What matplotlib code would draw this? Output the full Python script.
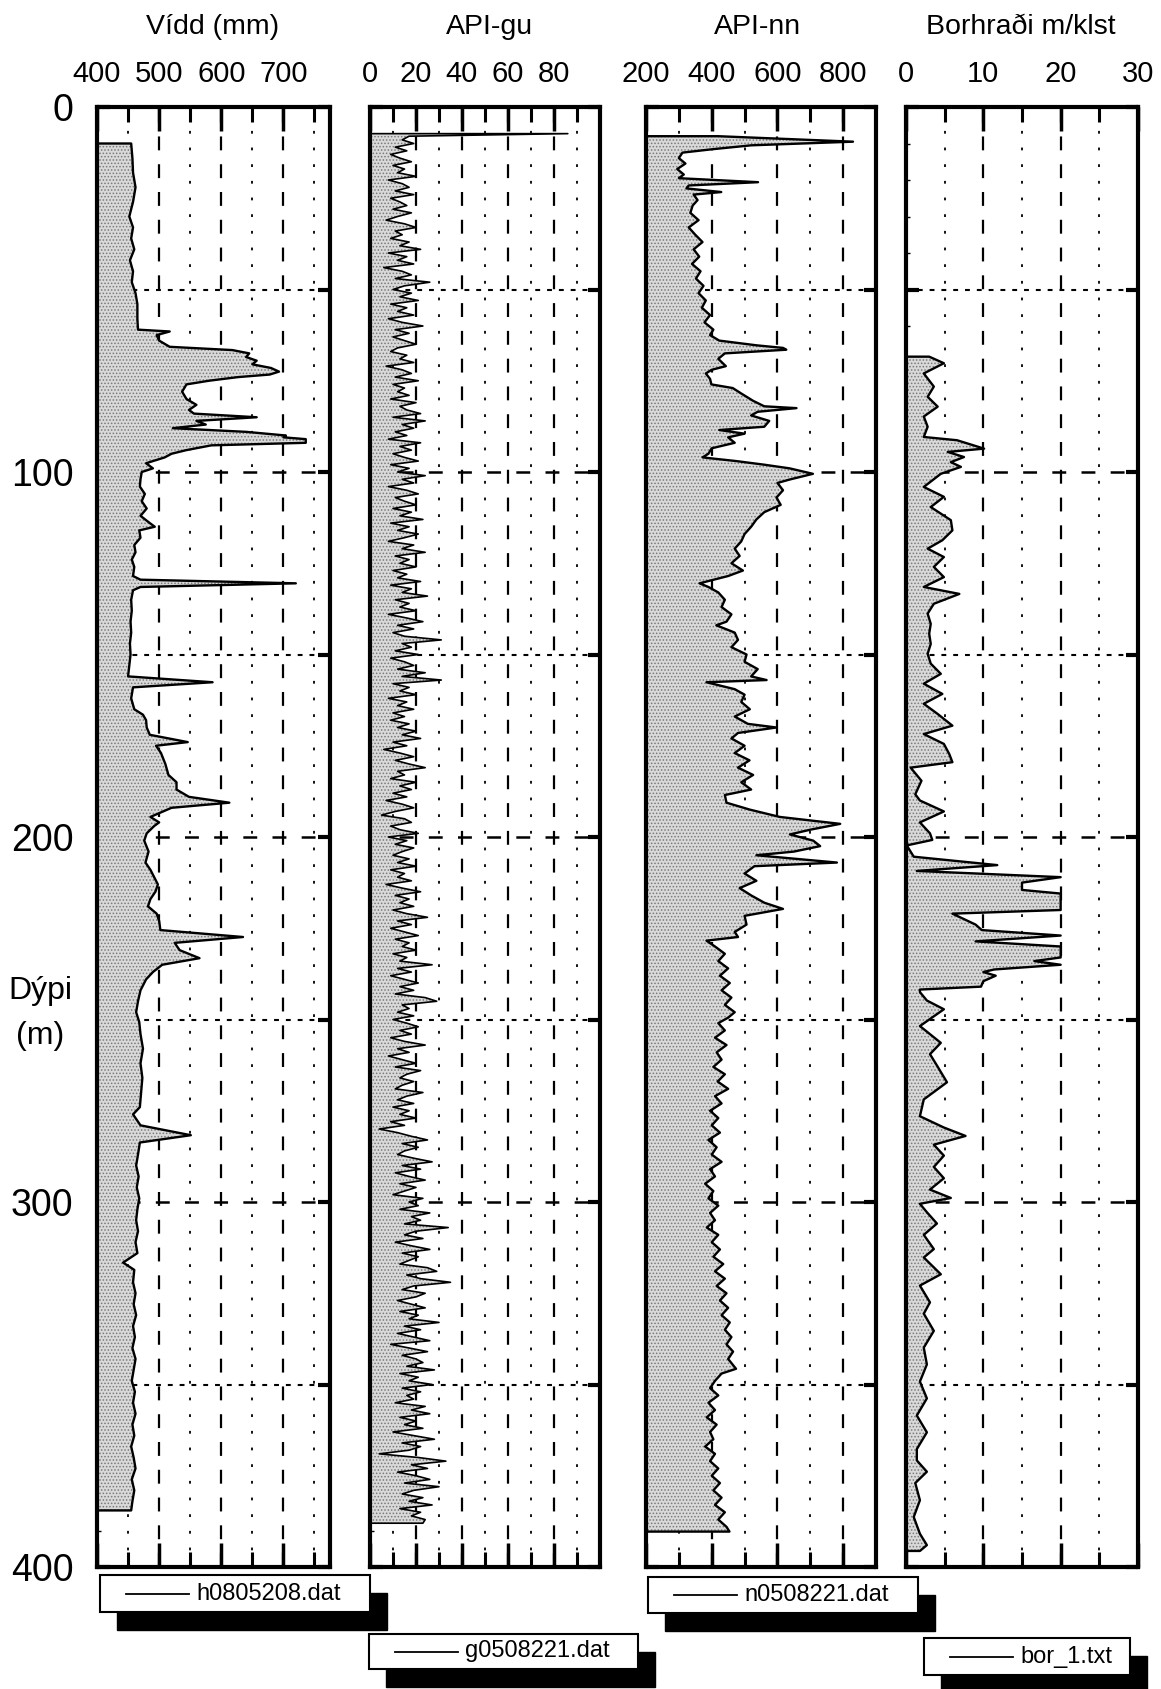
import numpy as np
import matplotlib.pyplot as plt
from matplotlib.patches import Rectangle
from matplotlib.lines import Line2D

plt.rcParams['font.family'] = ['Liberation Sans', 'DejaVu Sans']
plt.rcParams['lines.scale_dashes'] = False
plt.rcParams['hatch.linewidth'] = 0.7

# --- Vidd (caliper), mm ---
vidd_depth = [10, 14, 18, 22, 26, 30, 33, 36, 39, 42, 45, 48, 51, 54, 58, 61, 61.5, 62.5, 64, 65.7,
              66.6, 67.5, 68.5, 69.5, 70.5, 71.5, 72.5, 73.3, 74, 75, 76, 78, 80, 81.6, 83, 84, 85, 86,
              87, 88, 89, 90, 90.5, 91, 92, 92.7, 94, 95, 96, 97.6, 99, 100, 102, 104, 106, 108, 110,
              112, 114, 115, 116, 118, 120, 122, 124, 126, 128.5, 129.5, 130.5, 131.5, 132.4, 135, 138,
              141, 144, 147, 150, 153, 156, 157.6, 159, 162, 165, 166.5, 168, 170, 172, 174, 175, 177,
              180, 183, 185, 187, 189, 190.6, 192, 194.5, 196, 197, 199, 201, 204, 207, 209, 211, 213,
              215, 217, 219, 221, 223, 225.5, 227.4, 229, 231, 233.2, 235, 237, 239, 242, 245, 248,
              250.7, 254, 258, 262, 266, 270, 274, 276, 279, 281.7, 283.7, 287, 290, 293, 296, 299, 302,
              305, 308, 311, 314, 316.6, 318.6, 322, 325, 328, 331, 334, 337, 340, 343, 346, 349, 352,
              355, 358, 361, 364, 367, 370, 373, 376, 379, 382, 384.5]
vidd_mm = [455, 457, 458, 462, 458, 452, 458, 455, 460, 453, 458, 456, 462, 465, 465, 466, 517, 496, 500, 517,
           618, 645, 640, 657, 650, 680, 693, 678, 627, 580, 544, 537, 544, 560, 548, 556, 657, 560,
           575, 522, 640, 704, 700, 736, 736, 584, 544, 520, 509, 479, 490, 472, 470, 469, 477, 472, 480,
           470, 485, 493, 468, 470, 460, 462, 456, 460, 458, 470, 720, 470, 458, 455, 456,
           454, 455, 453, 454, 452, 450, 586, 458, 455, 460, 474, 479, 480, 485, 546, 495, 503,
           510, 515, 528, 528, 548, 613, 520, 486, 500, 492, 480, 476, 483, 478, 486, 492, 498,
           494, 486, 482, 496, 500, 502, 635, 525, 533, 565, 505, 490, 479, 470, 466, 463,
           468, 470, 474, 470, 473, 471, 469, 458, 470, 551, 469, 466, 463, 467, 464, 468, 465,
           463, 466, 462, 465, 442, 460, 458, 462, 459, 463, 458, 461, 457, 462, 459, 456, 461,
           458, 462, 457, 460, 455, 459, 462, 456, 460, 457, 455]

# --- API-gu (gamma), every 1 m from 8 m, first reading at 7.3 m ---
gu_top_depth = 7.3
gu_top_value = 86
gu_values = [17, 14, 19, 11, 16, 9, 13, 18, 10, 15, 12, 20, 8, 14, 17, 11, 19, 9, 13, 16,
             10, 18, 12, 7, 15, 20, 11, 14, 9, 17, 13, 22, 8, 16, 12, 19, 6, 14, 18, 11,
             26, 15, 10, 18, 13, 21, 9, 16, 12, 19, 8, 14, 23, 11, 17, 10, 15, 20, 12, 9,
             16, 13, 19, 7, 14, 18, 11, 21, 10, 15, 12, 17, 9, 20, 13, 16, 22, 10, 24, 14,
             19, 11, 16, 8, 22, 13, 18, 10, 15, 21, 9, 17, 12, 24, 14, 19, 8, 16, 21, 11,
             15, 20, 10, 18, 13, 23, 9, 17, 12, 21, 15, 8, 19, 14, 24, 11, 17, 13, 20, 10,
             16, 12, 22, 9, 18, 14, 25, 11, 17, 13, 20, 8, 16, 23, 12, 19, 10, 15, 31, 14,
             18, 11, 21, 9, 15, 19, 12, 24, 14, 31, 10, 17, 13, 20, 8, 16, 12, 19, 10, 15,
             9, 17, 12, 20, 14, 22, 10, 16, 6, 13, 19, 11, 17, 24, 12, 15, 9, 20, 13, 18,
             10, 16, 7, 14, 19, 11, 5, 15, 18, 9, 13, 21, 8, 16, 11, 19, 14, 10, 17, 12,
             20, 9, 15, 12, 18, 7, 14, 22, 11, 17, 13, 19, 10, 16, 25, 12, 18, 9, 15, 21,
             11, 17, 14, 20, 10, 16, 13, 27, 12, 18, 9, 15, 21, 13, 19, 11, 24, 29, 14, 17,
             12, 19, 10, 16, 21, 13, 18, 9, 15, 24, 12, 17, 8, 14, 20, 11, 22, 16, 13, 19,
             14, 11, 23, 16, 12, 19, 10, 17, 13, 20, 9, 15, 4, 12, 18, 25, 14, 21, 15, 12,
             19, 27, 14, 22, 11, 17, 24, 13, 20, 15, 10, 23, 17, 21, 13, 26, 18, 22, 15, 34,
             20, 15, 23, 11, 18, 26, 14, 21, 17, 13, 25, 29, 16, 22, 35, 19, 14, 24, 20, 12,
             18, 24, 13, 21, 17, 30, 15, 22, 12, 19, 26, 9, 17, 25, 14, 20, 23, 16, 28, 13,
             21, 17, 27, 14, 22, 16, 19, 11, 24, 18, 26, 13, 20, 15, 23, 10, 19, 28, 14, 22,
             17, 4, 21, 33, 18, 25, 12, 20, 26, 15, 30, 19, 14, 23, 17, 27, 13, 22, 18, 24,
             23]
gu_depth = [gu_top_depth] + list(range(8, 389))
gu_api = [gu_top_value] + gu_values

# --- API-nn (neutron) ---
nn_depth = [8, 9.5, 10.5, 11.6, 12.5, 14, 15.5, 17, 18.5, 19.5, 20.6, 21.5, 22.3, 23.3, 24, 25.5, 27, 29,
            31, 33, 35, 37, 39, 41, 43, 45, 47, 49, 51, 53, 55, 57, 59, 61, 62.5, 64, 65.3, 66, 66.5,
            67.5, 69, 71, 72, 73, 74.5, 76, 77, 78.5, 80.5, 82, 82.5, 83.5, 84.5, 86, 87.6, 88.5, 89.5,
            90.5, 92, 93.5, 95, 96, 97, 98, 99, 100.5, 102, 103, 105, 107, 109, 111, 113, 115, 117,
            119, 121, 123, 125, 127, 128.5, 130.5, 131.5, 133, 135, 137, 139, 141, 142, 144, 146, 148,
            150, 152, 154, 156, 157, 157.6, 159.5, 161, 163, 165, 167, 169, 170, 171.5, 173, 175, 177,
            179, 181, 183, 185, 187, 188.5, 190.6, 192.5, 194.5, 196.4, 198, 199.3, 201, 202.5, 204,
            205, 207, 208, 210, 212, 214, 216, 218, 219.7, 221.6, 224, 226, 227.4, 228.4, 230, 232,
            234, 236, 238, 240, 242, 244, 246, 248, 249.5, 251, 253, 255, 257, 259, 261, 263, 265,
            267, 269, 271, 273, 275, 277, 279, 281, 283, 285, 287, 289, 291, 293, 295, 297, 299, 301,
            303, 305, 307, 309, 311, 313, 315, 317, 319, 321, 323, 325, 327, 329, 331, 333, 335, 337,
            339, 341, 343, 345.7, 347, 349, 351, 353, 355, 357, 359, 361, 363, 365, 367, 369, 371,
            373, 375, 377, 379, 381, 383, 385, 387, 389, 390.3]
nn_api = [420, 830, 520, 399, 311, 300, 320, 295, 315, 300, 541, 330, 323, 429, 345, 357, 342, 335,
          360, 330, 350, 372, 345, 362, 340, 366, 352, 375, 360, 382, 370, 395, 378, 405, 395, 423, 537, 617, 627,
          440, 420, 443, 400, 382, 395, 399, 464, 490, 526, 560, 658, 540, 520, 575, 560, 423, 500,
          450, 470, 400, 390, 372, 474, 560, 637, 708, 640, 600, 617, 597, 610, 560, 536, 520, 500,
          490, 470, 485, 460, 495, 450, 363, 390, 420, 440, 430, 460, 445, 414, 470, 480, 460,
          506, 500, 540, 520, 567, 384, 470, 500, 490, 516, 470, 510, 597, 480, 460, 500, 470,
          515, 480, 526, 490, 520, 440, 445, 516, 607, 791, 700, 638, 709, 730, 650,
          536, 781, 530, 500, 536, 485, 520, 560, 617, 500, 506, 470, 480, 384, 410, 440,
          420, 450, 425, 455, 430, 460, 440, 470, 450, 420, 440, 410, 445, 415, 430, 405, 440,
          418, 450, 410, 430, 395, 420, 400, 425, 390, 415, 400, 430, 395, 410, 380, 405, 390, 420,
          395, 410, 385, 420, 400, 425, 405, 435, 410, 440, 415, 445, 425, 450, 430, 455, 440, 460,
          445, 465, 450, 474, 430, 410, 395, 420, 390, 410, 385, 415, 395, 405, 380, 410, 395,
          420, 400, 425, 405, 430, 410, 440, 420, 445, 454]

# --- Borhradi (rate of penetration), m/klst ---
bor_depth = [68.4, 70.2, 73, 76.6, 79.4, 82.1, 84.8, 87.6, 90.4, 91.3, 93.6, 94.5, 95.9, 97.3, 98.6,
             100.5, 104.1, 106.8, 109.6, 113.2, 116, 118.7, 121, 123.3, 126, 128.8, 131.5, 133.4, 136.1,
             138.8, 141.6, 144.3, 147.1, 149.8, 152.5, 155.3, 158, 160.8, 163.5, 166.3, 169.5, 171.8,
             174.5, 177.3, 179.5, 181, 184.6, 188.3, 190, 193, 196, 199, 200.8, 202.3, 205.4, 207.7,
             209.3, 211, 212.5, 214.5, 215.5, 220, 221, 222.5, 224, 225.5, 227, 228.6, 230, 233, 234,
             235, 236.3, 237, 238, 239.5, 241, 241.8, 242.5, 244.8, 247.2, 251.8, 256.4, 259.5, 262.6,
             267.2, 271.9, 276.5, 279.6, 281.9, 284.3, 287.3, 290.4, 293.5, 296.6, 298.9, 300.5, 302.8,
             305.9, 309, 312.9, 315.2, 319.8, 322.9, 327.5, 330.6, 335.3, 339.9, 344.5, 349.2, 353.8,
             358.5, 363.1, 367.7, 370.8, 373.9, 377, 381.7, 386.3, 390.9, 394, 395.6]
bor_rate = [3.0, 4.9, 2.3, 3.6, 2.8, 4.1, 2.3, 2.8, 2.3, 6.6, 10.1, 5.4, 7.5, 5.8, 7.1,
            4.5, 2.3, 4.9, 3.2, 5.8, 6.0, 4.7, 2.8, 4.9, 3.6, 4.9, 2.3, 6.9, 3.6,
            2.8, 3.2, 3.0, 3.2, 2.8, 3.2, 4.5, 2.3, 4.7, 2.3, 4.1, 6.0, 2.3,
            4.9, 5.6, 6.0, 0.6, 2.0, 1.2, 1.8, 4.9, 1.8, 3.1, 3.4, 0.1, 1.0, 11.8,
            1.4, 20, 15, 15, 20, 20, 6.0, 7.5, 9.0, 9.8, 20, 9.0, 20, 20, 16.6,
            20, 11.4, 10, 11.6, 10, 9.7, 1.8, 1.8, 2.7, 4.9, 1.8, 4.5, 3.1, 4.0,
            5.3, 2.3, 1.8, 4.9, 7.7, 3.6, 4.9, 3.6, 4.9, 3.1, 5.8, 1.8, 2.7,
            4.0, 2.3, 3.6, 2.3, 4.5, 1.8, 3.1, 2.3, 3.6, 2.3, 2.7, 1.8, 2.7,
            1.4, 2.7, 1.4, 1.4, 2.7, 1.2, 1.8, 1.0, 1.8, 2.7, 1.8]

titles = ['Vídd (mm)', 'API-gu', 'API-nn', 'Borhraði m/klst']
legend_names = ['h0805208.dat', 'g0508221.dat', 'n0508221.dat', 'bor_1.txt']

W, H = 1161, 1689
fig = plt.figure(figsize=(W / 100, H / 100), dpi=100)


def frac(x0, y0, x1, y1):
    # pixel box (top-left origin) -> figure fraction [left, bottom, width, height]
    return [x0 / W, 1 - y1 / H, (x1 - x0) / W, (y1 - y0) / H]


panels = [
    dict(box=(97, 107, 330, 1567), xlim=(400, 775), ticks=[400, 500, 600, 700],
         minor=[450, 550, 650, 750], grid=[500, 600, 700], depth=vidd_depth, val=vidd_mm,
         title_x=213, legend=(100, 1575, 370, 1612)),
    dict(box=(370, 107, 600, 1567), xlim=(0, 100), ticks=[0, 20, 40, 60, 80],
         minor=[10, 30, 50, 70, 90], grid=[20, 40, 60, 80], depth=gu_depth, val=gu_api,
         title_x=490, legend=(369, 1634, 638, 1669)),
    dict(box=(646, 107, 876, 1567), xlim=(200, 900), ticks=[200, 400, 600, 800],
         minor=[300, 500, 700], grid=[400, 600, 800], depth=nn_depth, val=nn_api,
         title_x=757, legend=(648, 1577, 918, 1613)),
    dict(box=(906, 107, 1138, 1567), xlim=(0, 30), ticks=[0, 10, 20, 30],
         minor=[5, 15, 25], grid=[10, 20], depth=bor_depth, val=bor_rate,
         title_x=1021, legend=(924, 1638, 1130, 1675)),
]

for i, p in enumerate(panels):
    ax = fig.add_axes(frac(*p['box']))
    x0 = p['xlim'][0]
    ax.set_xlim(*p['xlim'])
    ax.set_ylim(400, 0)

    # grid
    for g in p['grid']:
        ax.axvline(g, color='k', lw=1.6, dashes=(10, 10), zorder=1)
    for g in p['minor']:
        ax.axvline(g, color='k', lw=1.3, dashes=(2, 10), zorder=1)
    for d in [100, 200, 300]:
        ax.axhline(d, color='k', lw=1.8, dashes=(10, 11), zorder=1)
    for d in [50, 150, 250, 350]:
        ax.axhline(d, color='k', lw=1.5, dashes=(3.5, 5), zorder=1)

    dep = np.array(p['depth'], dtype=float)
    val = np.array(p['val'], dtype=float)
    ax.fill_betweenx(dep, x0, val, facecolor='#d9d9d9', edgecolor='#7a7a7a',
                     hatch='.....', linewidth=0, zorder=2)
    line_d = np.concatenate([[dep[0]], dep, [dep[-1]]])
    line_v = np.concatenate([[x0], val, [x0]])
    ax.plot(line_v, line_d, color='k', lw=1.7 if i != 1 else 1.2, zorder=3)

    for s in ax.spines.values():
        s.set_linewidth(3)
        s.set_zorder(5)

    ax.set_xticks(p['ticks'])
    ax.set_xticklabels([str(t) for t in p['ticks']])
    ax.set_xticks(p['minor'], minor=True)
    ax.tick_params(axis='x', which='major', direction='in', length=17, width=2.5,
                   top=True, bottom=True, labeltop=True, labelbottom=False,
                   labelsize=21, pad=14)
    ax.tick_params(axis='x', which='minor', direction='in', length=11, width=2.2,
                   top=True, bottom=True)

    ax.set_yticks(np.arange(0, 401, 50))
    ax.set_yticks(np.arange(0, 401, 10), minor=True)
    ax.tick_params(axis='y', which='major', direction='in', length=9, width=3,
                   left=True, right=True)
    ax.tick_params(axis='y', which='minor', direction='in', length=3, width=1,
                   left=True, right=False)
    if i == 0:
        ax.set_yticklabels([str(d) if d % 100 == 0 else '' for d in range(0, 401, 50)])
        ax.tick_params(axis='y', which='major', labelsize=27, pad=17)
    else:
        ax.set_yticklabels([])

    fig.text(p['title_x'] / W, 1 - 34 / H, titles[i], ha='center', va='baseline', fontsize=20.5)

    # legend box with shadow
    lx0, ly0, lx1, ly1 = p['legend']
    fig.patches.append(Rectangle(((lx0 + 17) / W, 1 - (ly1 + 18) / H), (lx1 - lx0) / W,
                                 (ly1 - ly0) / H, transform=fig.transFigure,
                                 facecolor='k', edgecolor='k', zorder=1))
    fig.patches.append(Rectangle((lx0 / W, 1 - ly1 / H), (lx1 - lx0) / W, (ly1 - ly0) / H,
                                 transform=fig.transFigure, facecolor='white',
                                 edgecolor='k', lw=1.5, zorder=2))
    ym = 1 - (ly0 + ly1) / 2 / H
    fig.lines.append(Line2D([(lx0 + 26) / W, (lx0 + 89) / W], [ym, ym],
                            transform=fig.transFigure, color='k', lw=1.3, zorder=3))
    fig.text((lx0 + 96) / W, ym, legend_names[i], ha='left', va='center',
             fontsize=17, zorder=4)

fig.text(40 / W, 1 - 991 / H, 'Dýpi', ha='center', va='center', fontsize=23)
fig.text(40 / W, 1 - 1036 / H, '(m)', ha='center', va='center', fontsize=23)

fig.savefig('out.png', dpi=100)
